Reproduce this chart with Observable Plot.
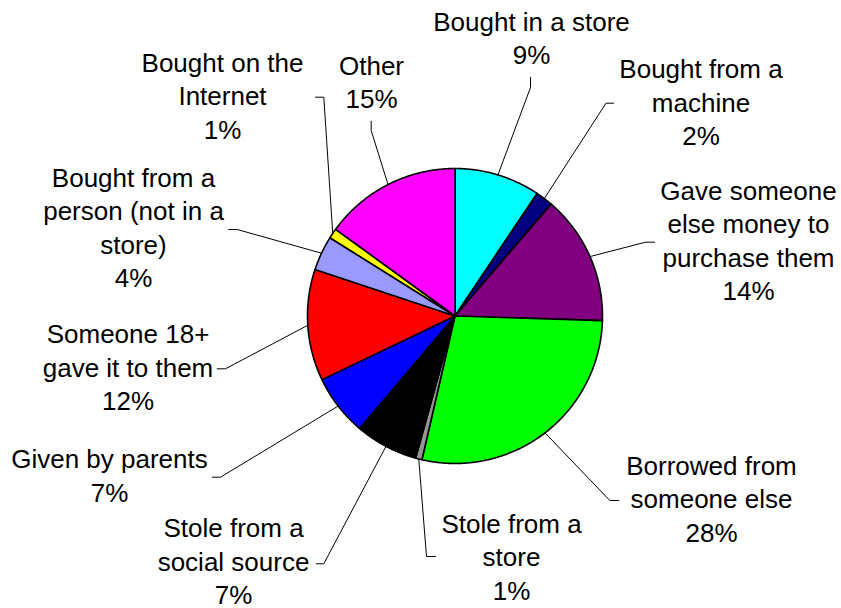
<!DOCTYPE html>
<html>
<head>
<meta charset="utf-8">
<script src="https://cdn.jsdelivr.net/npm/d3@7"></script>
<script src="https://cdn.jsdelivr.net/npm/@observablehq/plot@0.6"></script>
<style>
  html, body { margin: 0; padding: 0; background: #fff; }
  #chart svg { display: block; font-family: "Liberation Sans", Arial, sans-serif; }
</style>
</head>
<body>
<div id="chart"></div>
<script>
// ---- Data ----
const categories = [
  "Bought in a store",
  "Bought from a machine",
  "Gave someone else money to purchase them",
  "Borrowed from someone else",
  "Stole from a store",
  "Stole from a social source",
  "Given by parents",
  "Someone 18+ gave it to them",
  "Bought from a person (not in a store)",
  "Bought on the Internet",
  "Other"
];
const values = [9.4, 1.9, 14.2, 28.1, 0.7, 6.9, 6.7, 12.2, 3.8, 1.1, 15.0];
const labelTexts = [
  "Bought in a store",
  "Bought from a\nmachine",
  "Gave someone\nelse money to\npurchase them",
  "Borrowed from\nsomeone else",
  "Stole from a\nstore",
  "Stole from a\nsocial source",
  "Given by parents",
  "Someone 18+\ngave it to them",
  "Bought from a\nperson (not in a\nstore)",
  "Bought on the\nInternet",
  "Other"
];

// ---- Styles ----
const sliceColors = ["#00FFFF", "#000080", "#800080", "#00FF00", "#969696", "#000000",
                     "#0000FF", "#FF0000", "#9999FF", "#FFFF00", "#FF00FF"];

// ---- Layout (pixels) ----
const pie = {cx: 454.5, cy: 315.5, r: 147.5};
const fontSize = 26;
const textShift = -6;
// label centre x, first baseline y, leader start (at label), leader elbow
const labelLayout = [
  {x: 531,   b: 31,    p1: [530, 77],      p2: [530, 87]},
  {x: 700.5, b: 78.3,  p1: [613, 102.7],   p2: [605.5, 102.7]},
  {x: 748,   b: 200,   p1: [654, 241.7],   p2: [645, 241.7]},
  {x: 711,   b: 475,   p1: [618.3, 500],   p2: [609.3, 500]},
  {x: 511,   b: 532.7, p1: [435, 556],     p2: [426, 556]},
  {x: 233,   b: 537.3, p1: [315.7, 563.3], p2: [323.3, 563.3]},
  {x: 109,   b: 468.3, p1: [211.7, 476.7], p2: [220, 476.7]},
  {x: 127.5, b: 343.3, p1: [216.7, 368.3], p2: [225, 368.3]},
  {x: 133,   b: 186.7, p1: [228.3, 229],   p2: [236.7, 229]},
  {x: 222,   b: 71.7,  p1: [315, 96.7],    p2: [323.3, 96.7]},
  {x: 371,   b: 75,    p1: [370.7, 120.7], p2: [370.7, 130]}
];

// ---- Build ----
const rows = categories.map((c, i) => ({category: c, value: values[i], color: sliceColors[i], i}));
const arcs = d3.pie().sort(null).value(d => d.value)(rows);

const px = a => pie.cx + pie.r * Math.sin(a);
const py = a => pie.cy - pie.r * Math.cos(a);

const slicePts = [];
arcs.forEach(a => {
  const key = a.data.category;
  slicePts.push({key, color: a.data.color, x: pie.cx, y: pie.cy});
  const n = Math.max(2, Math.ceil((a.endAngle - a.startAngle) / (Math.PI / 360)));
  for (let k = 0; k <= n; k++) {
    const t = a.startAngle + (a.endAngle - a.startAngle) * k / n;
    slicePts.push({key, color: a.data.color, x: px(t), y: py(t)});
  }
  slicePts.push({key, color: a.data.color, x: pie.cx, y: pie.cy});
});

const leaderPts = [];
arcs.forEach((a, i) => {
  const L = labelLayout[i];
  const mid = (a.startAngle + a.endAngle) / 2;
  leaderPts.push({key: i, x: L.p1[0], y: L.p1[1]});
  leaderPts.push({key: i, x: L.p2[0], y: L.p2[1]});
  leaderPts.push({key: i, x: px(mid), y: py(mid)});
});

const labels = arcs.map((a, i) => ({
  x: labelLayout[i].x,
  y: labelLayout[i].b - 0.71 * fontSize + textShift,
  text: labelTexts[i] + "\n" + Math.round(a.data.value) + "%"
}));

const chart = Plot.plot({
  width: 841,
  height: 608,
  margin: 0,
  x: {type: "identity", axis: null},
  y: {type: "identity", axis: null},
  color: {type: "identity"},
  marks: [
    Plot.line(leaderPts, {x: "x", y: "y", z: "key", stroke: "#000", strokeWidth: 1}),
    Plot.line(slicePts, {x: "x", y: "y", z: "key", fill: "color", stroke: "#000",
                         strokeWidth: 1.6, strokeLinejoin: "round"}),
    Plot.text(labels, {x: "x", y: "y", text: "text", fontSize: fontSize, lineHeight: 1.29,
                       lineAnchor: "top", textAnchor: "middle", fill: "#000",
                       fontFamily: "Liberation Sans, Arial, sans-serif"})
  ]
});
document.getElementById("chart").appendChild(chart);
</script>
</body>
</html>
